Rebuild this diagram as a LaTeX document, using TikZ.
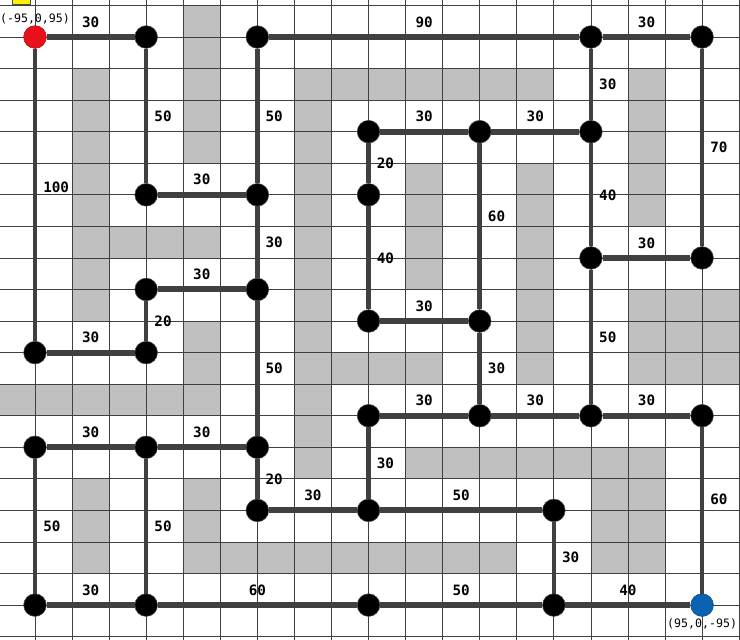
\documentclass[tikz,border=0pt]{standalone}
\usepackage{fontspec}
\setmonofont{DejaVu Sans Mono}
\usepackage{tikz}
\usepackage{xcolor}

\definecolor{wallgrey}{HTML}{C0C0C0}
\definecolor{edgegrey}{HTML}{404040}
\definecolor{startred}{HTML}{E8101A}
\definecolor{goalblue}{HTML}{0A62B0}

\begin{document}
\begin{tikzpicture}[x=27.795pt, y=-23.67pt,
    font=\ttfamily\bfseries\fontsize{10.7}{12}\selectfont,
    wall/.style={fill=wallgrey},
    gridline/.style={black!75, line width=0.6pt},
    hedge/.style={edgegrey, line width=4.5pt},
    vedge/.style={edgegrey, line width=3.4pt},
    vertex/.style={circle, fill=black, draw=black!70, minimum size=17pt, inner sep=0pt},
    hweight/.style={anchor=south, inner sep=0pt, yshift=5pt, text=black},
    vweight/.style={anchor=west, inner sep=0pt, xshift=4.5pt, text=black},
    coordlabel/.style={font=\ttfamily\fontsize{8.7}{10}\selectfont, inner sep=1pt, text=black}]

    % Frame of the picture (grid of 18 x 18 cells, nodes on the lines)
    \coordinate (tl) at (-0.9444,-1.1724);
    \coordinate (br) at (19.023,19.075);
    \useasboundingbox (tl) rectangle (br);
    \clip (tl) rectangle (br);
    \fill[white] (tl) rectangle (br);

    % Grey wall cells
    \fill[wall] (4,-1) rectangle (5,4);
    \fill[wall] (1,1) rectangle (2,9);
    \fill[wall] (1,6) rectangle (5,7);
    \fill[wall] (4,9) rectangle (5,12);
    \fill[wall] (-1,11) rectangle (5,12);
    \fill[wall] (1,14) rectangle (2,17);
    \fill[wall] (4,14) rectangle (5,17);
    \fill[wall] (5,16) rectangle (13,17);
    \fill[wall] (7,1) rectangle (8,14);
    \fill[wall] (7,1) rectangle (14,2);
    \fill[wall] (7,10) rectangle (11,11);
    \fill[wall] (10,4) rectangle (11,8);
    \fill[wall] (13,4) rectangle (14,11);
    \fill[wall] (16,1) rectangle (17,6);
    \fill[wall] (16,8) rectangle (19.2,11);
    \fill[wall] (10,13) rectangle (17,14);
    \fill[wall] (15,14) rectangle (17,17);

    % Grid lines
    \foreach \i in {-1,...,19} \draw[gridline] (\i,-1.3) -- (\i,19.2);
    \foreach \j in {-1,...,19} \draw[gridline] (-1.2,\j) -- (19.2,\j);

    % Small yellow marker in the corner
    \filldraw[fill=yellow, draw=black!70, line width=0.5pt] (-0.6,-1.3) rectangle (-0.135,-1.02);

    % Start and goal
    \node[vertex, fill=startred, draw=startred!75!black] (p0-0) at (0,0) {};
    \node[vertex, fill=goalblue, draw=goalblue!75!black] (p18-18) at (18,18) {};
    \node[coordlabel, anchor=south] (startcoord) at (p0-0.north) {(-95,0,95)};
    \node[coordlabel, anchor=north, inner sep=1.5pt] (goalcoord) at (p18-18.south) {(95,0,-95)};

    % Waypoints
    \foreach \i/\j in {3/0, 6/0, 15/0, 18/0, 9/3, 12/3, 15/3, 3/5, 6/5, 9/5,
                       15/7, 18/7, 3/8, 6/8, 9/9, 12/9, 0/10, 3/10, 9/12, 12/12,
                       15/12, 18/12, 0/13, 3/13, 6/13, 6/15, 9/15, 14/15, 0/18,
                       3/18, 9/18, 14/18}
        \node[vertex] (p\i-\j) at (\i,\j) {};

    % Horizontal connections with weights
    \foreach \a/\b/\w in {p0-0/p3-0/30, p6-0/p15-0/90, p15-0/p18-0/30,
                          p3-5/p6-5/30, p9-3/p12-3/30, p12-3/p15-3/30,
                          p15-7/p18-7/30, p3-8/p6-8/30, p0-10/p3-10/30,
                          p9-9/p12-9/30, p9-12/p12-12/30, p12-12/p15-12/30,
                          p15-12/p18-12/30, p0-13/p3-13/30, p3-13/p6-13/30,
                          p6-15/p9-15/30, p9-15/p14-15/50, p0-18/p3-18/30,
                          p3-18/p9-18/60, p9-18/p14-18/50, p14-18/p18-18/40}
        \draw[hedge] (\a) -- node[hweight] (w-\a-\b) {\w} (\b);

    % Vertical connections with weights (last field: label position)
    \foreach \a/\b/\w/\p in {p0-0/p0-10/100/.475, p3-0/p3-5/50/.5, p6-0/p6-5/50/.5,
                             p15-0/p15-3/30/.5, p18-0/p18-7/70/.5, p9-3/p9-5/20/.5,
                             p12-3/p12-9/60/.44, p15-3/p15-7/40/.5, p6-5/p6-8/30/.5,
                             p9-5/p9-9/40/.5, p3-8/p3-10/20/.5, p6-8/p6-13/50/.5,
                             p12-9/p12-12/30/.5, p15-7/p15-12/50/.5,
                             p18-12/p18-18/60/.435, p0-13/p0-18/50/.5,
                             p3-13/p3-18/50/.5, p6-13/p6-15/20/.5,
                             p9-12/p9-15/30/.5, p14-15/p14-18/30/.5}
        \draw[vedge] (\a) -- node[vweight, pos=\p] (w-\a-\b) {\w} (\b);

\end{tikzpicture}
\end{document}
